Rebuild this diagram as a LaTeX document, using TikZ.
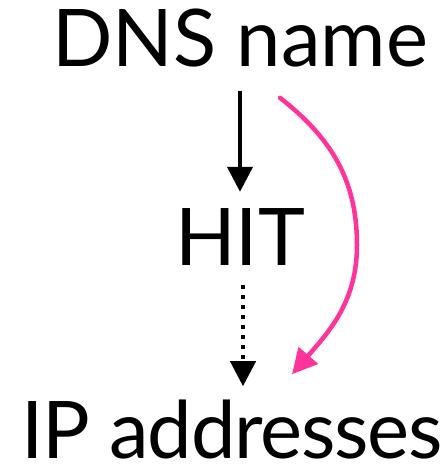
\documentclass[tikz,border=0pt]{standalone}
\usepackage{fontspec}
\setmainfont{Lato}
\usetikzlibrary{arrows.meta}
\definecolor{hotpink}{RGB}{255,51,153}
\tikzset{
  big/.style={inner sep=0pt, anchor=base, font=\fontsize{79.5}{90}\selectfont},
  solidarrow/.style={line width=4pt, -{Triangle[width=25pt,length=25pt]}},
  dotarrow/.style={solidarrow, dash pattern=on 4pt off 6pt},
  pinkarrow/.style={hotpink, line width=4.5pt, line cap=round, -{Triangle[width=25pt,length=25pt]}}
}
\begin{document}
\begin{tikzpicture}[x=1pt,y=1pt]
            \useasboundingbox (0,0) rectangle (446,466);
            \node[big](1) at (240,399) {DNS name};
            \node[big](2) at (240,200) {HIT};
            \node[big](3) at (232,7) {\addfontfeature{LetterSpace=-1.6}IP addresses};
            \coordinate(4) at (357,221);
            \draw[solidarrow, shorten <=23pt, shorten >=17pt] (1.south) -- (2.north);
            \draw[dotarrow, shorten <=19pt, shorten >=14pt] ([xshift=3pt]2.south) -- ([xshift=11pt]3.north);
            \draw[pinkarrow] ([xshift=40pt,yshift=-30pt]1.south) to[out=-38,in=90] (4)
                to[out=-90,in=49] ([xshift=60pt,yshift=26pt]3.north);
        \end{tikzpicture}
\end{document}
